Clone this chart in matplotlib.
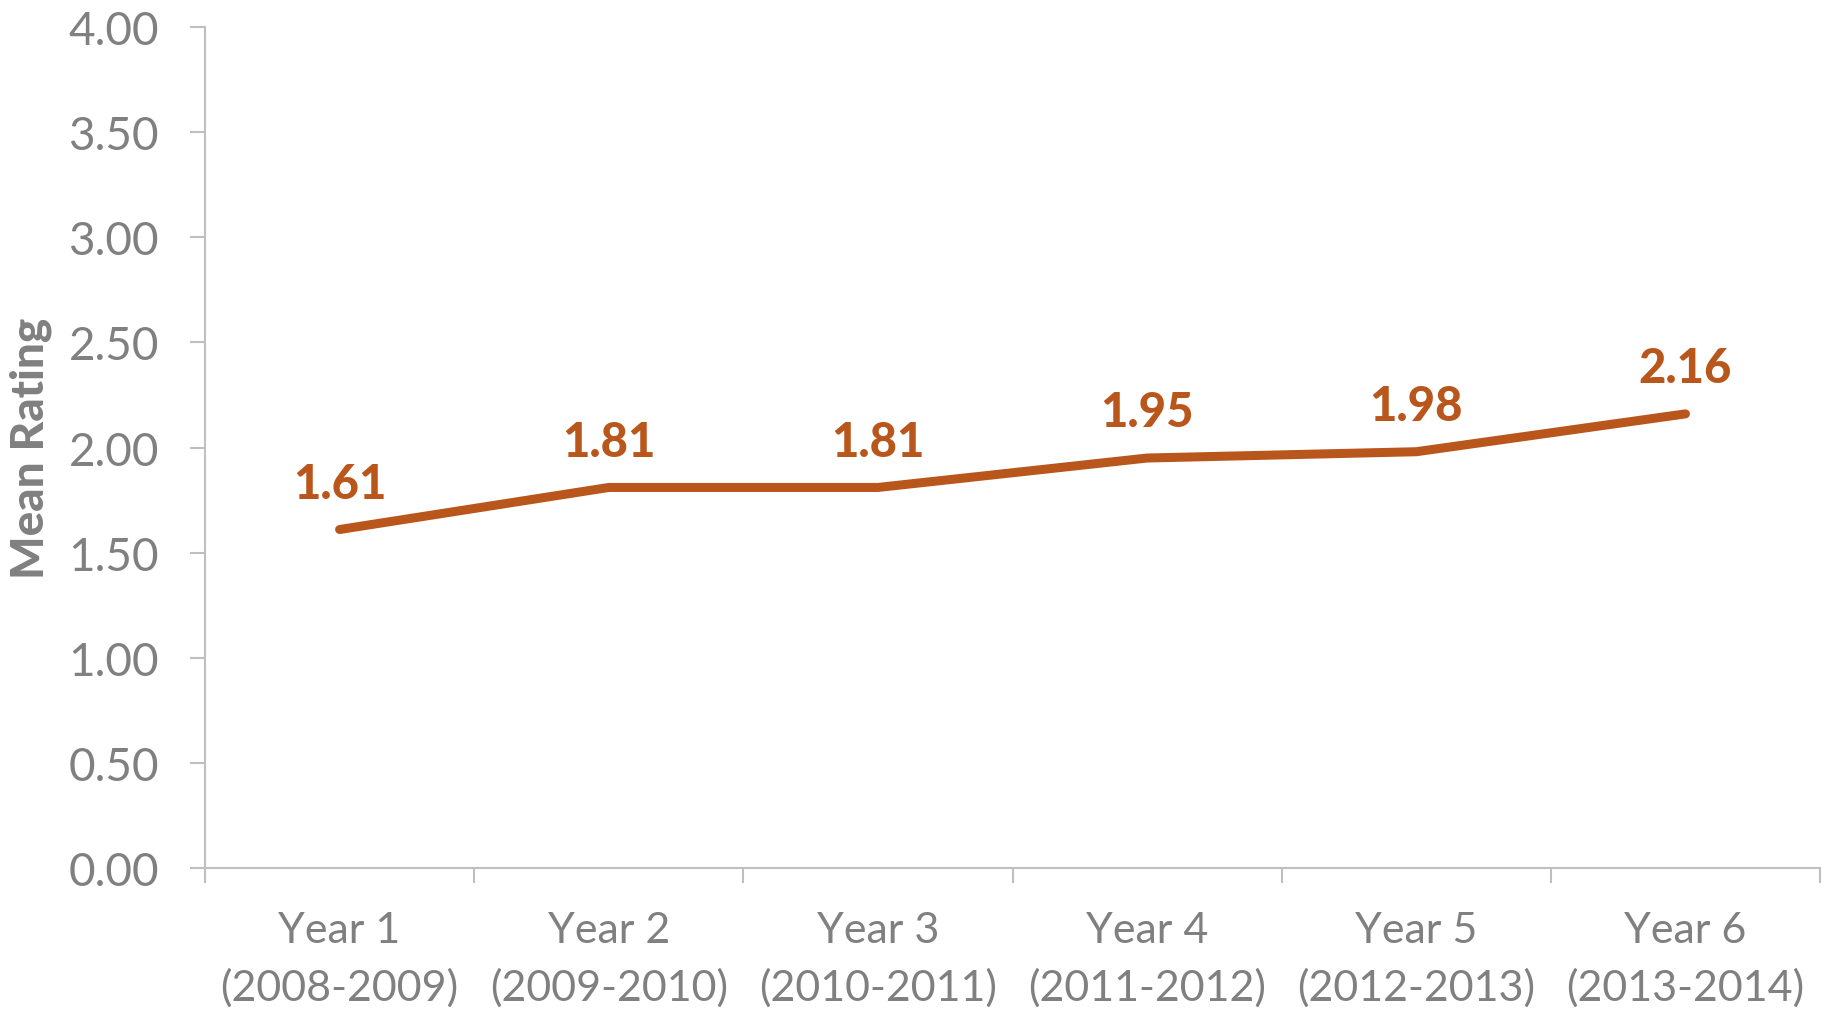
import matplotlib
matplotlib.use("Agg")
import matplotlib.pyplot as plt
import numpy as np

years = ["Year 1\n(2008-2009)", "Year 2\n(2009-2010)", "Year 3\n(2010-2011)",
         "Year 4\n(2011-2012)", "Year 5\n(2012-2013)", "Year 6\n(2013-2014)"]
ratings = [1.61, 1.81, 1.81, 1.95, 1.98, 2.16]
yticks = [0.0, 0.5, 1.0, 1.5, 2.0, 2.5, 3.0, 3.5, 4.0]

plt.rcParams['font.family'] = ['Lato', 'DejaVu Sans']
grey = "#808080"
orange = "#B9561B"
spine = "#BFBFBF"

fig = plt.figure(figsize=(18.27, 10.12), dpi=100)
ax = fig.add_axes([0.1122, 0.1413, 0.884, 0.8310])

x = np.arange(len(ratings))
ax.plot(x, ratings, color=orange, lw=6.5, solid_capstyle='round', solid_joinstyle='round')
for xi, v in zip(x, ratings):
    ax.annotate(f"{v:.2f}", (xi, v), xytext=(0, 33), textcoords='offset points',
                ha='center', va='center', fontsize=34, fontweight='black', color=orange)

ax.set_xlim(-0.5, len(ratings) - 0.5)
ax.set_ylim(0, 4)
ax.set_yticks(yticks)
ax.set_yticklabels([f"{t:.2f}" for t in yticks])

# category boundaries as major ticks, labels on minor ticks at the centres
ax.set_xticks(np.arange(len(ratings) + 1) - 0.5)
ax.set_xticklabels([])
ax.set_xticks(x, minor=True)
ax.set_xticklabels(years, minor=True, fontsize=31, color=grey, linespacing=1.55)
ax.tick_params(axis='x', which='minor', length=0, pad=31)
ax.tick_params(axis='x', which='major', length=11, width=1.5, color=spine)
ax.tick_params(axis='y', length=11, width=1.5, color=spine, labelsize=33,
               labelcolor=grey, pad=22)

for s in ['top', 'right']:
    ax.spines[s].set_visible(False)
for s in ['left', 'bottom']:
    ax.spines[s].set_color(spine)
    ax.spines[s].set_linewidth(1.5)

ax.set_ylabel("Mean Rating", fontsize=33, fontweight='black', color=grey, labelpad=12)

fig.savefig("out.png", dpi=100)
